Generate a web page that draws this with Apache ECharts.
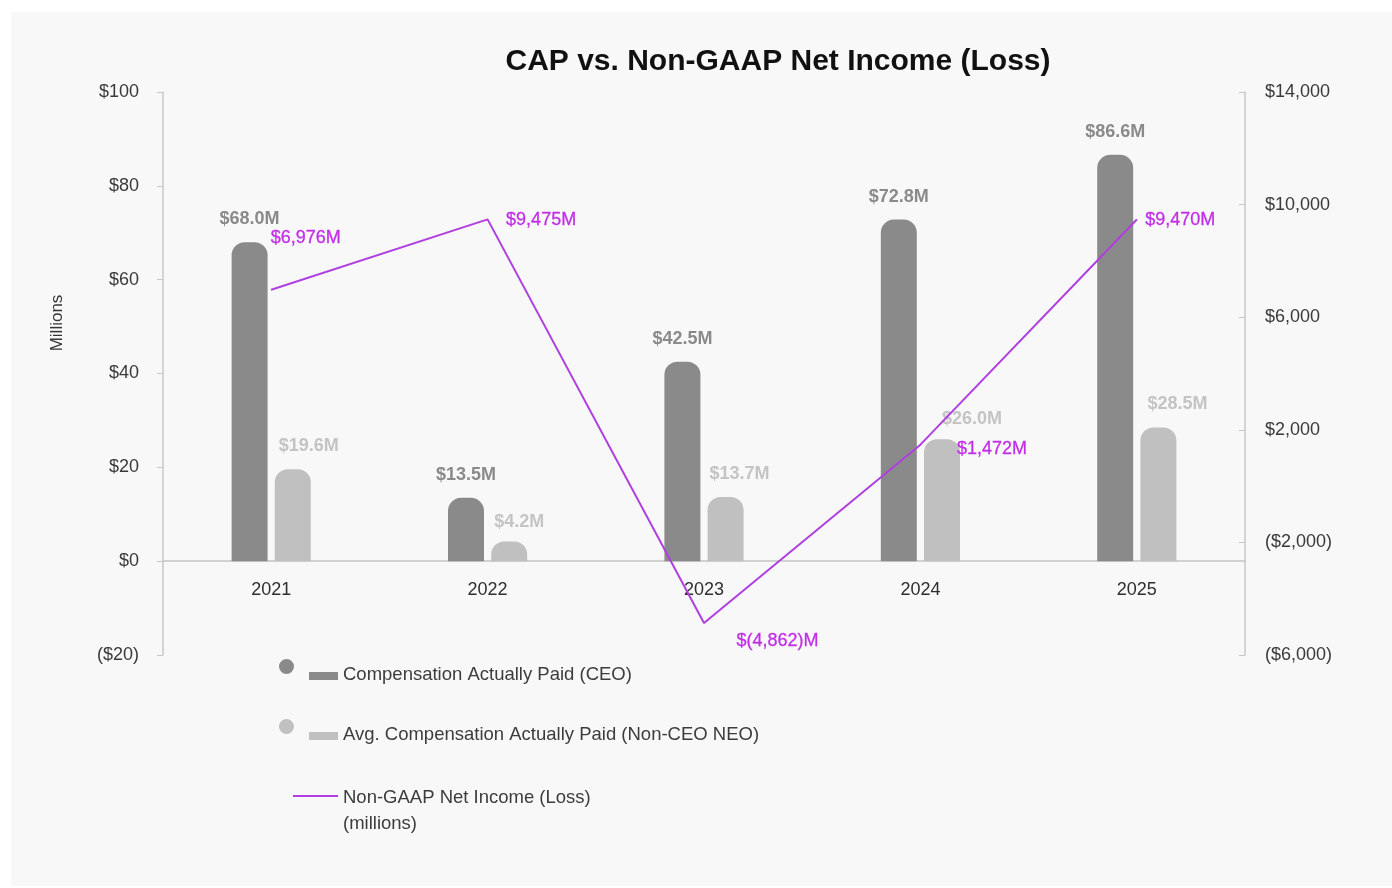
<!DOCTYPE html>
<html>
<head>
<meta charset="utf-8">
<script src="https://cdn.jsdelivr.net/npm/echarts@6/dist/echarts.min.js"></script>
<style>
  html, body { margin: 0; padding: 0; background: #ffffff; }
  #chart { width: 1392px; height: 888px; }
</style>
</head>
<body>
<div id="chart"></div>
<script>
// Fiscal years on the category axis
const years = ['2021', '2022', '2023', '2024', '2025'];
// Compensation actually paid, $ millions
const ceoCap = [68.0, 13.5, 42.5, 72.8, 86.6];
const neoCap = [19.6, 4.2, 13.7, 26.0, 28.5];
// Non-GAAP net income (loss), $ millions
const netIncome = [6976, 9475, -4862, 1472, 9470];

// Axis ranges
const leftAxis = { min: -20, max: 100, interval: 20 };
const rightAxis = { min: -6000, max: 14000, interval: 4000 };

// Label nudges so that labels do not collide with the line
const neoLabelOffsets = [[16, 0], [10, 4], [14, 0], [30, 3], [19, 0]];
const incomeLabelOffsets = [[-6, -52], [13, 1], [27, 18], [31, 4], [3, 1]];

const FONT = 'Liberation Sans, Arial, sans-serif';
const CEO_COLOR = '#8a8a8a';
const NEO_COLOR = '#c0c0c0';
const LINE_COLOR = '#b03fe0';
const LINE_LABEL_COLOR = '#c22ee6';

const money = v => v.toLocaleString('en-US');

const SERIES_CEO = 'Compensation Actually Paid (CEO)';
const SERIES_NEO = 'Avg. Compensation Actually Paid (Non-CEO NEO)';
const SERIES_INC = 'Non-GAAP Net Income (Loss)\n(millions)';

// Legend icons. The trailing zero-area segment stretches the icon box so the
// swatch sits above the vertical centre of the text.
const barIcon = 'path://M0,7.5 A7.5,7.5 0 1,1 15,7.5 A7.5,7.5 0 1,1 0,7.5 Z M30,13 L59,13 L59,21 L30,21 Z M59,32 L59,32.01';
const lineIcon = 'path://M0,0 L45,0 L45,2 L0,2 Z M45,32 L45,32.01';

const legendText = { fontFamily: FONT, fontSize: 18.5, color: '#3c3c3c' };

const chart = echarts.init(document.getElementById('chart'), null, { renderer: 'canvas' });

chart.setOption({
  backgroundColor: '#ffffff',
  animation: false,
  graphic: [
    {
      type: 'rect', z: -10, silent: true,
      shape: { x: 11, y: 12, width: 1381, height: 874 },
      style: { fill: '#f8f8f8' }
    },
    {
      type: 'text', x: 778, y: 62,
      style: {
        text: 'CAP vs. Non-GAAP Net Income (Loss)',
        fontFamily: FONT, fontSize: 30, fontWeight: 'bold', fill: '#111111',
        textAlign: 'center', textVerticalAlign: 'middle'
      }
    },
    {
      type: 'text', x: 57, y: 323, rotation: Math.PI / 2,
      style: {
        text: 'Millions',
        fontFamily: FONT, fontSize: 17, fill: '#333333',
        textAlign: 'center', textVerticalAlign: 'middle'
      }
    }
  ],
  legend: [
    {
      left: 279, top: 659, padding: 0,
      data: [SERIES_CEO], icon: barIcon, itemWidth: 59, itemHeight: 32,
      textStyle: legendText
    },
    {
      left: 279, top: 719, padding: 0,
      data: [SERIES_NEO], icon: barIcon, itemWidth: 59, itemHeight: 32,
      textStyle: legendText
    },
    {
      left: 293, top: 785, padding: 0,
      data: [SERIES_INC], icon: lineIcon, itemWidth: 45, itemHeight: 32,
      textStyle: Object.assign({ lineHeight: 26 }, legendText)
    }
  ],
  grid: { left: 163, right: 147, top: 92, height: 563, containLabel: false },
  xAxis: {
    type: 'category',
    data: years,
    axisLine: { onZero: true, lineStyle: { color: '#c4c4c4', width: 1.5 } },
    axisTick: { show: false },
    axisLabel: { fontFamily: FONT, fontSize: 18, color: '#2e2e2e', margin: -74 }
  },
  yAxis: [
    {
      type: 'value',
      min: leftAxis.min, max: leftAxis.max, interval: leftAxis.interval,
      axisLine: { show: true, lineStyle: { color: '#c8c8c8', width: 1.5 } },
      axisTick: { show: true, length: 6, lineStyle: { color: '#c8c8c8' } },
      splitLine: { show: false },
      axisLabel: {
        fontFamily: FONT, fontSize: 18, color: '#3a3a3a', margin: 24,
        formatter: v => (v < 0 ? '($' + (-v) + ')' : '$' + v)
      }
    },
    {
      type: 'value',
      position: 'right',
      min: rightAxis.min, max: rightAxis.max, interval: rightAxis.interval,
      axisLine: { show: true, lineStyle: { color: '#c8c8c8', width: 1.5 } },
      axisTick: { show: true, inside: true, length: 6, lineStyle: { color: '#c8c8c8' } },
      splitLine: { show: false },
      axisLabel: {
        fontFamily: FONT, fontSize: 18, color: '#3a3a3a', margin: 20,
        formatter: v => (v < 0 ? '($' + money(-v) + ')' : '$' + money(v))
      }
    }
  ],
  series: [
    {
      name: SERIES_CEO,
      type: 'bar',
      yAxisIndex: 0,
      data: ceoCap,
      barWidth: 36,
      barGap: '20%',
      itemStyle: { color: CEO_COLOR, borderRadius: [13, 13, 0, 0] },
      label: {
        show: true, position: 'top', distance: 14,
        fontFamily: FONT, fontSize: 18, fontWeight: 'bold', color: CEO_COLOR,
        formatter: p => '$' + p.value.toFixed(1) + 'M'
      }
    },
    {
      name: SERIES_NEO,
      type: 'bar',
      yAxisIndex: 0,
      data: neoCap.map((v, i) => ({
        value: v,
        label: { offset: neoLabelOffsets[i] }
      })),
      barWidth: 36,
      itemStyle: { color: NEO_COLOR, borderRadius: [13, 13, 0, 0] },
      label: {
        show: true, position: 'top', distance: 14,
        fontFamily: FONT, fontSize: 18, fontWeight: 'bold', color: '#c4c4c4',
        formatter: p => '$' + p.value.toFixed(1) + 'M'
      }
    },
    {
      name: SERIES_INC,
      type: 'line',
      yAxisIndex: 1,
      data: netIncome.map((v, i) => ({
        value: v,
        label: { offset: incomeLabelOffsets[i] }
      })),
      symbol: 'circle',
      symbolSize: 1,
      showSymbol: true,
      lineStyle: { color: LINE_COLOR, width: 2 },
      itemStyle: { color: LINE_COLOR },
      z: 5,
      label: {
        show: true, position: 'right', distance: 5,
        fontFamily: FONT, fontSize: 18, fontWeight: 500, color: LINE_LABEL_COLOR,
        textBorderColor: LINE_LABEL_COLOR, textBorderWidth: 0.3,
        formatter: p => (p.value < 0 ? '$(' + money(-p.value) + ')M' : '$' + money(p.value) + 'M')
      }
    }
  ]
});
</script>
</body>
</html>
